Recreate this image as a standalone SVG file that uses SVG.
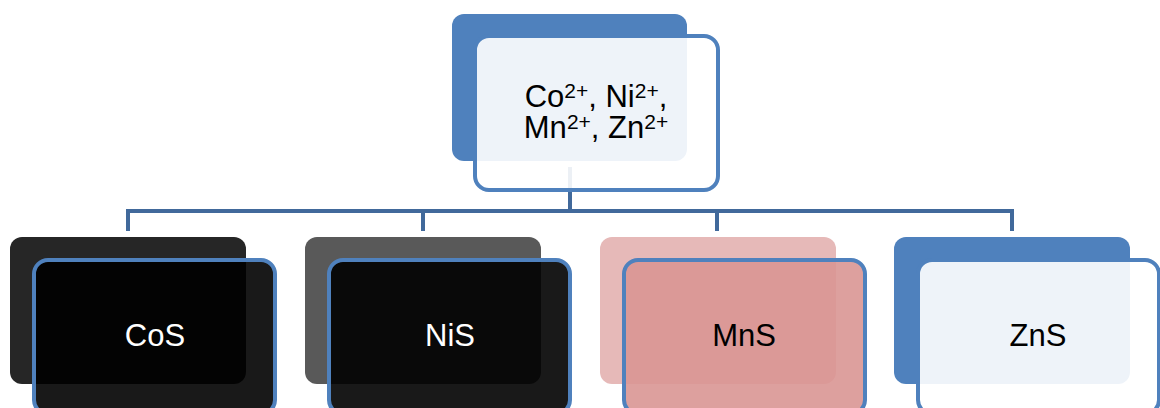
<svg xmlns="http://www.w3.org/2000/svg" width="1160" height="408" viewBox="0 0 1160 408">
<style>
.back{stroke:none}
.front{stroke:#4F81BD;stroke-width:4}
.conn{fill:none;stroke:#41699B;stroke-width:4;stroke-linejoin:miter}
.lbl{font-family:"Liberation Sans",Arial,sans-serif;font-size:31px;text-anchor:middle}
.sup{font-size:21px}
</style>
<rect width="1160" height="408" fill="#FFFFFF"/>
<g id="connectors">
<path class="conn" d="M128 231 V211 H1012 V231 M423 211 V231 M717 211 V231"/>
<path class="conn" d="M570 167 V211"/>
</g>
<g id="node-top">
<rect class="back" x="452" y="14" width="235" height="147" rx="12" fill="#4F81BD"/>
<rect class="front" x="475" y="36" width="243" height="154" rx="14" fill="#FFFFFF" fill-opacity="0.9"/>
<text class="lbl" fill="#000"><tspan x="596" y="107">Co<tspan class="sup" baseline-shift="9">2+</tspan>, Ni<tspan class="sup" baseline-shift="9">2+</tspan>,</tspan><tspan x="596" y="138">Mn<tspan class="sup" baseline-shift="9">2+</tspan>, Zn<tspan class="sup" baseline-shift="9">2+</tspan></tspan></text>
</g>
<g id="node-cos">
<rect class="back" x="10" y="237" width="236" height="147" rx="12" fill="#262626"/>
<rect class="front" x="34" y="260" width="241" height="154" rx="14" fill="#000000" fill-opacity="0.9"/>
<text class="lbl" x="155" y="346" fill="#FFFFFF">CoS</text>
</g>
<g id="node-nis">
<rect class="back" x="305" y="237" width="236" height="147" rx="12" fill="#595959"/>
<rect class="front" x="329" y="260" width="241" height="154" rx="14" fill="#000000" fill-opacity="0.9"/>
<text class="lbl" x="450" y="346" fill="#FFFFFF">NiS</text>
</g>
<g id="node-mns">
<rect class="back" x="600" y="237" width="236" height="147" rx="12" fill="#E6B9B8"/>
<rect class="front" x="624" y="260" width="241" height="154" rx="14" fill="#D99694" fill-opacity="0.9"/>
<text class="lbl" x="744" y="346" fill="#000">MnS</text>
</g>
<g id="node-zns">
<rect class="back" x="894" y="237" width="236" height="147" rx="12" fill="#4F81BD"/>
<rect class="front" x="918" y="260" width="241" height="154" rx="14" fill="#FFFFFF" fill-opacity="0.9"/>
<text class="lbl" x="1038" y="346" fill="#000">ZnS</text>
</g>
</svg>
